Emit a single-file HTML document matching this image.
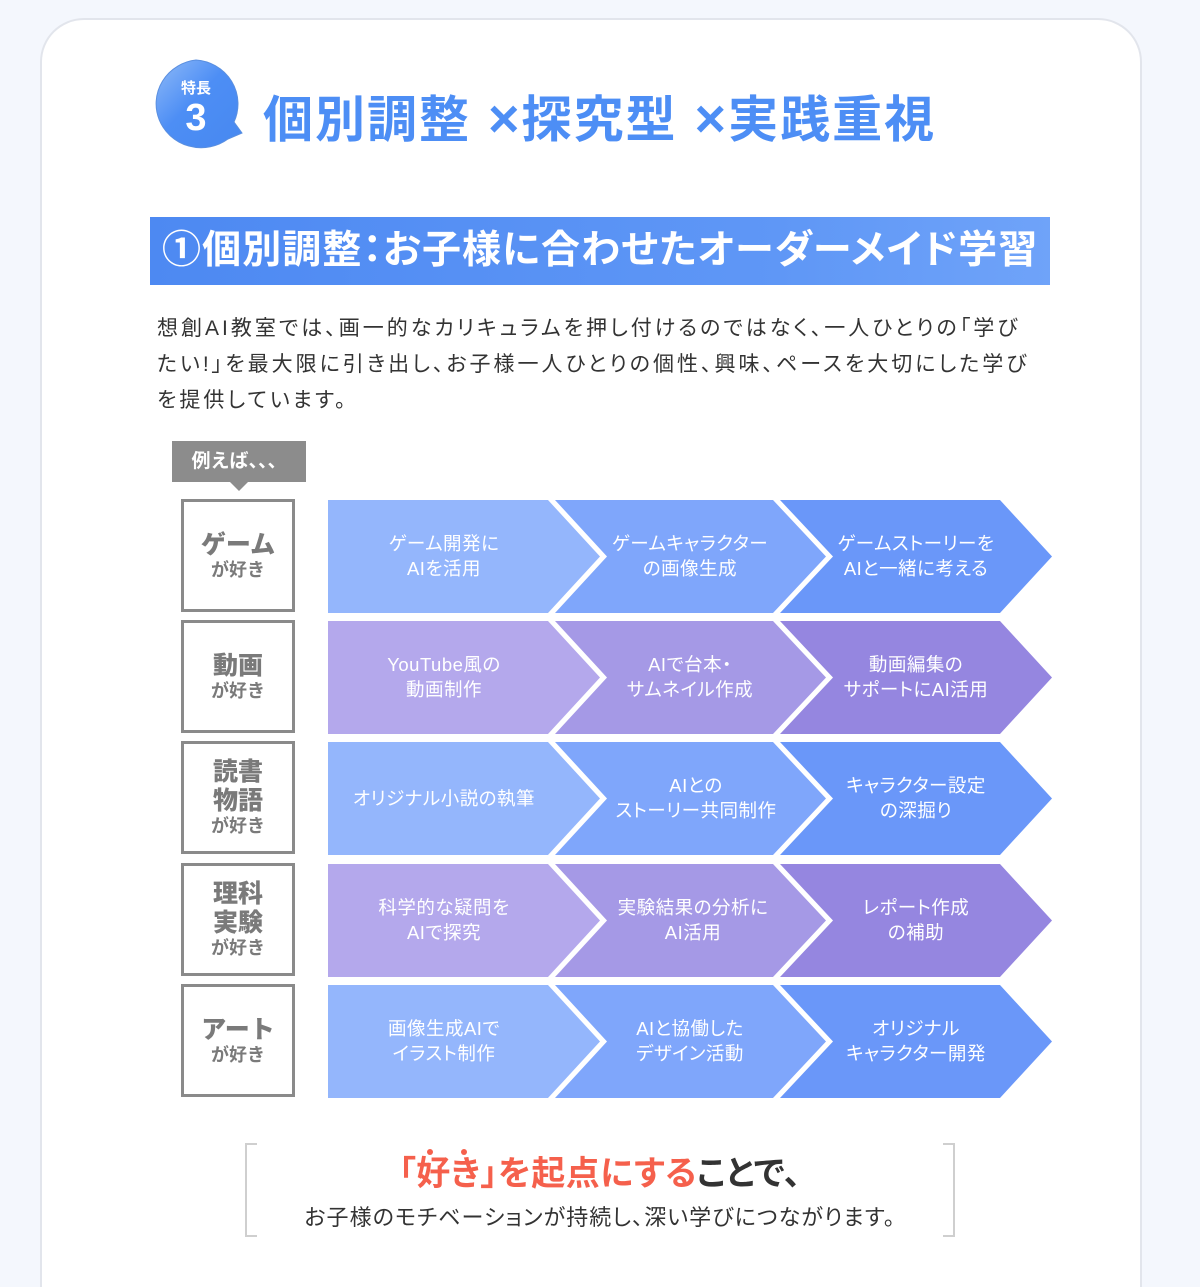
<!DOCTYPE html>
<html><head><meta charset="utf-8"><style>
*{margin:0;padding:0;box-sizing:border-box}
html,body{width:1200px;height:1287px;overflow:hidden}
body{background:#f4f7fd;font-family:"Liberation Sans","Noto Sans CJK JP",sans-serif;position:relative}
.card{position:absolute;left:40px;top:18px;width:1102px;height:1269px;background:#fff;border:2px solid #e2e5ec;border-bottom:none;border-radius:44px 44px 0 0}
.abs{position:absolute}
.palt{font-feature-settings:"palt"}
.h1{left:263px;top:80px;font-size:50px;font-weight:bold;color:#4d8ef5;letter-spacing:2px;white-space:nowrap}
.bar{left:150px;top:217px;width:900px;height:68px;background:linear-gradient(90deg,#4d89f2,#5f97f6 70%,#6fa3f9);color:#fff;font-size:39px;font-weight:bold;padding-left:12px;line-height:68px;white-space:nowrap;letter-spacing:1.1px}
.para{left:157px;top:311px;width:900px;font-size:21px;line-height:36px;color:#333;white-space:nowrap;letter-spacing:3px}
.tab{left:172px;top:441px;width:134px;height:41px;background:#8c8c8c;color:#fff;font-weight:bold;font-size:19px;line-height:41px;text-align:center}
.tri{left:230px;top:482px;width:0;height:0;border-left:9px solid transparent;border-right:9px solid transparent;border-top:9px solid #8c8c8c}
.lbl{left:181px;width:114px;height:113px;border:3px solid #8a8a8a;color:#7a7a7a;font-weight:bold;display:flex;flex-direction:column;justify-content:center;align-items:center;text-align:center;line-height:1.15}
.lbl b{font-size:25px}
.lbl span{font-size:18px}
.t{position:absolute;color:#fff;font-size:18.5px;text-align:center;line-height:25px;width:230px;white-space:nowrap;font-feature-settings:"palt";letter-spacing:.5px}
.brk{left:245px;top:1143px;width:710px;height:94px;border-left:2px solid #cfcfcf;border-right:2px solid #cfcfcf}
.brk:before,.brk:after{content:"";position:absolute;top:0;bottom:0;width:10px;border-top:2px solid #cfcfcf;border-bottom:2px solid #cfcfcf}
.brk:before{left:0}.brk:after{right:0}
</style></head><body>
<div class="card"></div>
<svg class="abs" style="left:140px;top:50px" width="120" height="110">
<defs><linearGradient id="g" x1="0" y1="0" x2="1" y2="1"><stop offset="0" stop-color="#8fbaf7"/><stop offset=".45" stop-color="#4d8ef5"/><stop offset="1" stop-color="#4788f0"/></linearGradient></defs>
<path d="M56 10 A45 44 0 1 0 88 89 L102 83 L94 72 A45 44 0 0 0 56 10Z" fill="url(#g)" stroke="#5a8fe0" stroke-width="1"/>
<text x="56" y="43" font-size="15" font-weight="bold" fill="#fff" text-anchor="middle" font-family="Liberation Sans,Noto Sans CJK JP,sans-serif">特長</text>
<text x="56" y="80" font-size="38" font-weight="bold" fill="#fff" text-anchor="middle" font-family="Liberation Sans,sans-serif">3</text>
</svg>
<div class="abs h1">個別調整<span style="font-size:54px"> ×</span>探究型<span style="font-size:54px"> ×</span>実践重視</div>
<div class="abs bar palt">①個別調整：お子様に合わせたオーダーメイド学習</div>
<div class="abs para palt">想創AI教室では、画一的なカリキュラムを押し付けるのではなく、一人ひとりの「学び<br>たい!」を最大限に引き出し、お子様一人ひとりの個性、興味、ペースを大切にした学び<br>を提供しています。</div>
<div class="abs tab">例えば、、、</div>
<div class="abs tri"></div>

<div class="abs lbl" style="top:499px"><b>ゲーム</b><span>が好き</span></div>
<div class="abs lbl" style="top:620px"><b>動画</b><span>が好き</span></div>
<div class="abs lbl" style="top:741px"><b>読書<br>物語</b><span>が好き</span></div>
<div class="abs lbl" style="top:863px"><b>理科<br>実験</b><span>が好き</span></div>
<div class="abs lbl" style="top:984px"><b>アート</b><span>が好き</span></div>

<svg class="abs" style="left:0;top:0" width="1200" height="1287">
<defs>
<g id="s1"><polygon points="328,0 548,0 600,56.5 548,113 328,113"/></g>
<g id="s2"><polygon points="555,0 773,0 826,56.5 773,113 555,113 607,56.5"/></g>
<g id="s3"><polygon points="780,0 1000,0 1052,56.5 1000,113 780,113 833,56.5"/></g>
</defs>
<g transform="translate(0,500)"><use href="#s1" fill="#94b6fc"/><use href="#s2" fill="#7fa6fb"/><use href="#s3" fill="#6a97f9"/></g>
<g transform="translate(0,621)"><use href="#s1" fill="#b4a8ec"/><use href="#s2" fill="#a599e6"/><use href="#s3" fill="#9586e0"/></g>
<g transform="translate(0,742)"><use href="#s1" fill="#94b6fc"/><use href="#s2" fill="#7fa6fb"/><use href="#s3" fill="#6a97f9"/></g>
<g transform="translate(0,864)"><use href="#s1" fill="#b4a8ec"/><use href="#s2" fill="#a599e6"/><use href="#s3" fill="#9586e0"/></g>
<g transform="translate(0,985)"><use href="#s1" fill="#94b6fc"/><use href="#s2" fill="#7fa6fb"/><use href="#s3" fill="#6a97f9"/></g>
</svg>

<div class="t" style="left:329px;top:531px">ゲーム開発に<br>AIを活用</div>
<div class="t" style="left:575px;top:531px">ゲームキャラクター<br>の画像生成</div>
<div class="t" style="left:801px;top:531px">ゲームストーリーを<br>AIと一緒に考える</div>

<div class="t" style="left:329px;top:652px">YouTube風の<br>動画制作</div>
<div class="t" style="left:575px;top:652px">AIで台本・<br>サムネイル作成</div>
<div class="t" style="left:801px;top:652px">動画編集の<br>サポートにAI活用</div>

<div class="t" style="left:329px;top:786px">オリジナル小説の執筆</div>
<div class="t" style="left:581px;top:773px">AIとの<br>ストーリー共同制作</div>
<div class="t" style="left:801px;top:773px">キャラクター設定<br>の深掘り</div>

<div class="t" style="left:329px;top:895px">科学的な疑問を<br>AIで探究</div>
<div class="t" style="left:578px;top:895px">実験結果の分析に<br>AI活用</div>
<div class="t" style="left:801px;top:895px">レポート作成<br>の補助</div>

<div class="t" style="left:329px;top:1016px">画像生成AIで<br>イラスト制作</div>
<div class="t" style="left:575px;top:1016px">AIと協働した<br>デザイン活動</div>
<div class="t" style="left:801px;top:1016px">オリジナル<br>キャラクター開発</div>

<div class="abs brk"></div>
<div class="abs palt" style="left:245px;width:710px;top:1152px;text-align:center;font-size:34px;font-weight:bold;line-height:44px;white-space:nowrap;letter-spacing:.5px"><span style="color:#f5604c">「好き」を起点にする</span><span style="color:#333">ことで、</span></div>
<div class="abs" style="left:427px;top:1149px;width:6px;height:6px;border-radius:50%;background:#f5604c"></div>
<div class="abs" style="left:461px;top:1149px;width:6px;height:6px;border-radius:50%;background:#f5604c"></div>
<div class="abs palt" style="left:245px;width:710px;top:1200px;text-align:center;font-size:22px;color:#333;white-space:nowrap;letter-spacing:1.1px">お子様のモチベーションが持続し、深い学びにつながります。</div>
</body></html>
